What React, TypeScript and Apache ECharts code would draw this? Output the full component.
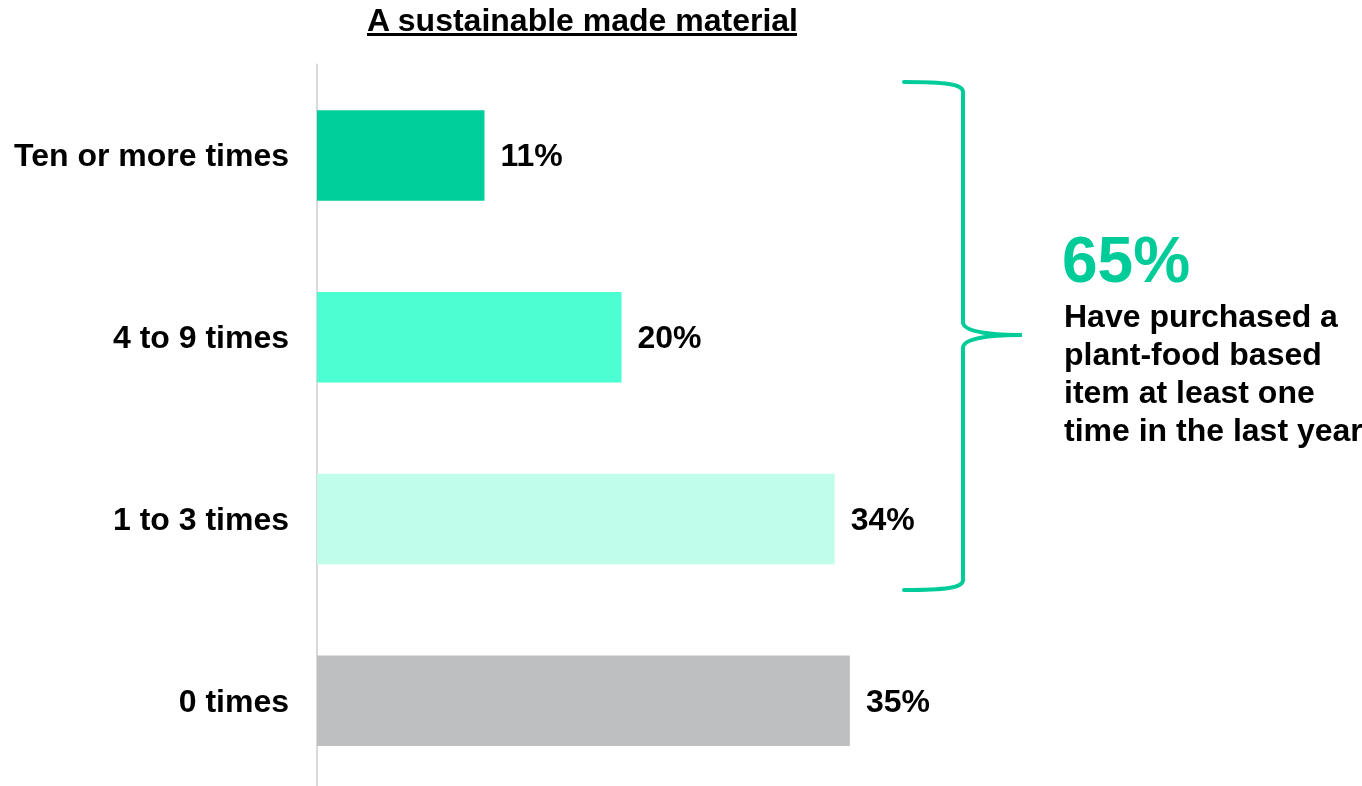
import React, { useEffect, useRef } from "react";
import * as echarts from "echarts";

const categories = ["Ten or more times", "4 to 9 times", "1 to 3 times", "0 times"];
const values = [11, 20, 34, 35];
const barColors = ["#00CF9B", "#4BFFD2", "#C0FDEB", "#BEBFC1"];
const title = "A sustainable made material";
const calloutValue = "65%";
const calloutText = "Have purchased a\nplant-food based\nitem at least one\ntime in the last year";

const FONT = "'Liberation Sans', Arial, sans-serif";
const GREEN = "#00CC99";

echarts.graphic.registerShape(
  "brace",
  echarts.graphic.extendPath(
    "M 904 82 C 945 82 963 84 963 92 L 963 322 C 963 332 990 335 1022 335 C 990 335 963 338 963 348 L 963 580 C 963 588 945 590 904 590",
    {}
  )
);

export default function App() {
  const ref = useRef<HTMLDivElement>(null);
  useEffect(() => {
    if (!ref.current) return;
    const chart = echarts.init(ref.current, null, { renderer: "svg" });
    chart.setOption({
      animation: false,
      textStyle: { fontFamily: FONT },
      grid: { left: 317, right: 436, top: 64.5, height: 727, containLabel: false },
      xAxis: {
        type: "value",
        min: 0,
        max: 40,
        show: false,
      },
      yAxis: {
        type: "category",
        data: categories,
        inverse: true,
        axisLine: { show: true, lineStyle: { color: "#D9D9D9", width: 2 } },
        axisTick: { show: false },
        axisLabel: {
          margin: 28,
          fontSize: 32,
          fontWeight: "bold",
          color: "#000",
          fontFamily: FONT,
        },
      },
      series: [
        {
          type: "bar",
          data: values.map((v, i) => ({ value: v, itemStyle: { color: barColors[i] } })),
          barWidth: 90.5,
          label: {
            show: true,
            position: "right",
            distance: 16,
            formatter: "{c}%",
            fontSize: 32,
            fontWeight: "bold",
            color: "#000",
            fontFamily: FONT,
          },
        },
      ],
      graphic: [
        {
          type: "text",
          left: 367,
          top: 4,
          style: {
            text: title,
            fontSize: 32,
            fontWeight: "bold",
            fill: "#000",
            fontFamily: FONT,
          },
        },
        {
          type: "rect",
          shape: { x: 367, y: 33, width: 430, height: 3 },
          style: { fill: "#000" },
        },
        {
          type: "brace",
          x: 0,
          y: 0,
          style: { stroke: GREEN, lineWidth: 4, fill: "none", lineCap: "round" },
        },
        {
          type: "text",
          x: 1062,
          y: 260,
          style: {
            text: calloutValue,
            fontSize: 64,
            fontWeight: "bold",
            fill: GREEN,
            fontFamily: FONT,
            verticalAlign: "middle",
          },
        },
        {
          type: "text",
          x: 1064,
          y: 297,
          style: {
            text: calloutText,
            fontSize: 32,
            lineHeight: 38,
            fontWeight: "bold",
            fill: "#000",
            fontFamily: FONT,
            verticalAlign: "top",
          },
        },
      ],
    });
    return () => chart.dispose();
  }, []);
  return (
    <div
      ref={ref}
      style={{ position: "fixed", left: 0, top: 0, width: 1362, height: 800 }}
    />
  );
}
